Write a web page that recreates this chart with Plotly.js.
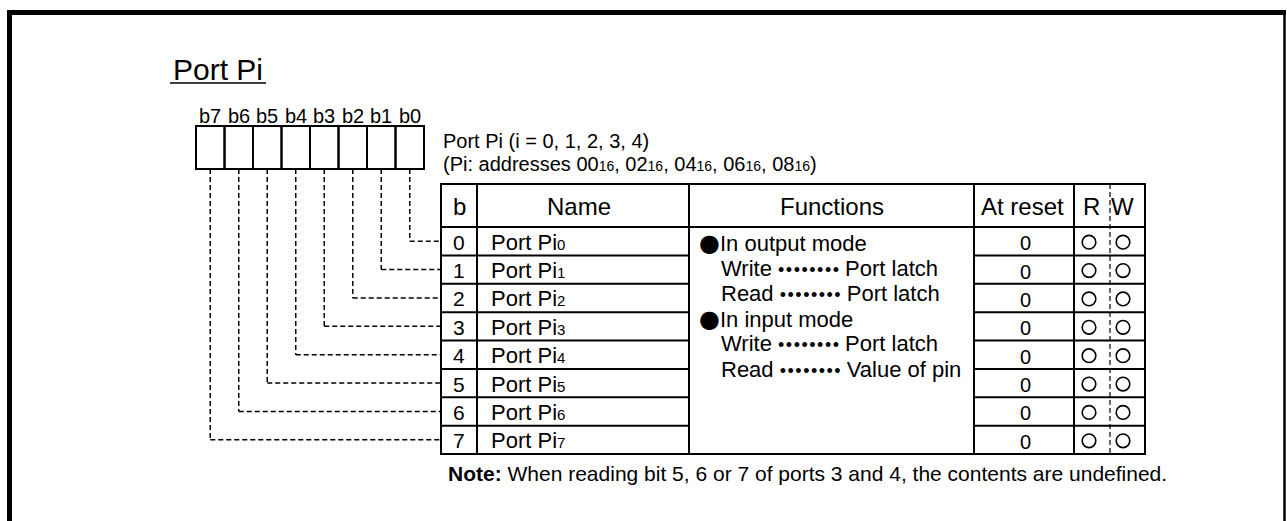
<!DOCTYPE html>
<html><head><meta charset="utf-8">
<script src="https://cdn.plot.ly/plotly-3.0.1.min.js"></script>
<style>html,body{margin:0;padding:0;background:#fff;}#chart{width:1287px;height:521px;}</style>
</head><body><div id="chart"></div>
<script>
// ---------- content ----------
const titleText = "Port Pi";
const bitLabels = ["b7", "b6", "b5", "b4", "b3", "b2", "b1", "b0"];
const bits = [0, 1, 2, 3, 4, 5, 6, 7];
const nameBase = "Port Pi";
const resetValues = ["0", "0", "0", "0", "0", "0", "0", "0"];
const readable = [true, true, true, true, true, true, true, true];
const writable = [true, true, true, true, true, true, true, true];
const headers = ["b", "Name", "Functions", "At reset", "R", "W"];
const portIndices = ["0", "1", "2", "3", "4"];
const addresses = ["00", "02", "04", "06", "08"];
const addrRadix = "16";
const functionBullets = ["In output mode", "In input mode"];
const functionOps = [["Write", "Port latch"], ["Read", "Port latch"], ["Write", "Port latch"], ["Read", "Value of pin"]];
const noteLabel = "Note:";
const noteText = "When reading bit 5, 6 or 7 of ports 3 and 4, the contents are undefined.";

// ---------- geometry (pixels) ----------
const W = 1287, H = 521;
const FONT = "Liberation Sans, Arial, sans-serif";
const box = {l: 196, t: 126, b: 169, cw: 28.5};
const tbl = {t: 184, hb: 227, b: 454, cols: [441, 477, 689, 974, 1074, 1110, 1145]};
const rowH = (tbl.b - tbl.hb) / bits.length;
const C = tbl.cols;

const shapes = [];
const ann = [];
const line = (x0, y0, x1, y1, w, dash) => shapes.push({type: "line", xref: "x", yref: "y", x0, y0, x1, y1, line: {color: "#000", width: w, dash: dash || "solid"}});
const text = (x, y, t, size, anchor, extra) => ann.push(Object.assign({x, y, xref: "x", yref: "y", text: t, showarrow: false, xanchor: anchor || "center", yanchor: "middle", font: {family: FONT, size: size, color: "#000"}}, extra || {}));

// frame
line(7, 12.5, 1286, 12.5, 5);
line(9.5, 10, 9.5, H, 5);
line(1284.5, 10, 1284.5, H, 2.5);

// title
text(171, 69, titleText, 30, "left");
line(170, 83, 266, 83, 1.5);

// register boxes + labels + connectors
bitLabels.forEach((lab, i) => {
  const x0 = box.l + box.cw * i;
  shapes.push({type: "rect", xref: "x", yref: "y", x0, x1: x0 + box.cw, y0: box.t, y1: box.b, line: {color: "#000", width: 2}});
  text(x0 + box.cw / 2, 116, lab, 20);
});
bits.forEach(b => {
  const cx = box.l + box.cw * (bits.length - 1 - b) + box.cw / 2;
  const ry = tbl.hb + rowH * (b + 0.5);
  line(cx, box.b, cx, ry, 1.5, "5px,3px");
  line(cx, ry, C[0], ry, 1.5, "5px,3px");
});

// register description
const small = s => `<span style="font-size:14px">${s}</span>`;
text(441, 141, `Port Pi (i = ${portIndices.join(", ")})`, 20, "left");
text(441, 164, `(Pi: addresses ${addresses.map(a => a + small(addrRadix)).join(", ")})`, 20, "left");

// table frame
shapes.push({type: "rect", xref: "x", yref: "y", x0: C[0], x1: C[6], y0: tbl.t, y1: tbl.b, line: {color: "#000", width: 2}});
[1, 2, 3, 4].forEach(k => line(C[k], tbl.t, C[k], tbl.b, 2));
line(C[5], tbl.t, C[5], tbl.b, 1.2, "5px,3px");
line(C[0], tbl.hb, C[6], tbl.hb, 2);
for (let k = 1; k < bits.length; k++) {
  const y = tbl.hb + rowH * k;
  line(C[0], y, C[2], y, 2);
  line(C[3], y, C[6], y, 2);
}

// headers
const hy = (tbl.t + tbl.hb) / 2 + 1;
text((C[0] + C[1]) / 2, hy, headers[0], 24);
text((C[1] + C[2]) / 2 - 4, hy, headers[1], 24);
text((C[2] + C[3]) / 2, hy, headers[2], 24);
text((C[3] + C[4]) / 2 - 2, hy, headers[3], 24);
text(1091, hy, headers[4], 24);
text(1122, hy, headers[5], 24);

// rows
bits.forEach(b => {
  const y = tbl.hb + rowH * (b + 0.5);
  text((C[0] + C[1]) / 2, y + 1, String(b), 21);
  text(489, y + 1, nameBase + `<span style="font-size:15px">${b}</span>`, 22, "left");
  text((C[3] + C[4]) / 2 + 1, y + 2, resetValues[b], 20);
  const r = 6.8;
  if (readable[b]) shapes.push({type: "circle", xref: "x", yref: "y", x0: 1089 - r, x1: 1089 + r, y0: y + 1 - r, y1: y + 1 + r, line: {color: "#000", width: 1.6}});
  if (writable[b]) shapes.push({type: "circle", xref: "x", yref: "y", x0: 1123 - r, x1: 1123 + r, y0: y + 1 - r, y1: y + 1 + r, line: {color: "#000", width: 1.6}});
});

// functions
const dots = `<span style="font-size:18px">${"•\u200a".repeat(7)}•</span>`;
const bullet = `<span style="font-family:'DejaVu Sans';font-size:24px">●</span>`;
const fLines = [
  [true, bullet + functionBullets[0]],
  [false, functionOps[0][0] + " " + dots + " " + functionOps[0][1]],
  [false, functionOps[1][0] + " " + dots + " " + functionOps[1][1]],
  [true, bullet + functionBullets[1]],
  [false, functionOps[2][0] + " " + dots + " " + functionOps[2][1]],
  [false, functionOps[3][0] + " " + dots + " " + functionOps[3][1]]
];
fLines.forEach(([isBullet, t], i) => {
  text(isBullet ? 697 : 719, 243 + 25.2 * i, t, 22, "left");
});

// note
text(446, 473, `<b>${noteLabel}</b> ${noteText}`, 21, "left");

Plotly.newPlot("chart", [], {
  width: W, height: H,
  margin: {l: 0, r: 0, t: 0, b: 0, pad: 0},
  paper_bgcolor: "#fff", plot_bgcolor: "#fff",
  xaxis: {range: [0, W], visible: false, fixedrange: true},
  yaxis: {range: [H, 0], visible: false, fixedrange: true},
  showlegend: false,
  shapes, annotations: ann
}, {displayModeBar: false, staticPlot: true});
</script>
</body></html>
